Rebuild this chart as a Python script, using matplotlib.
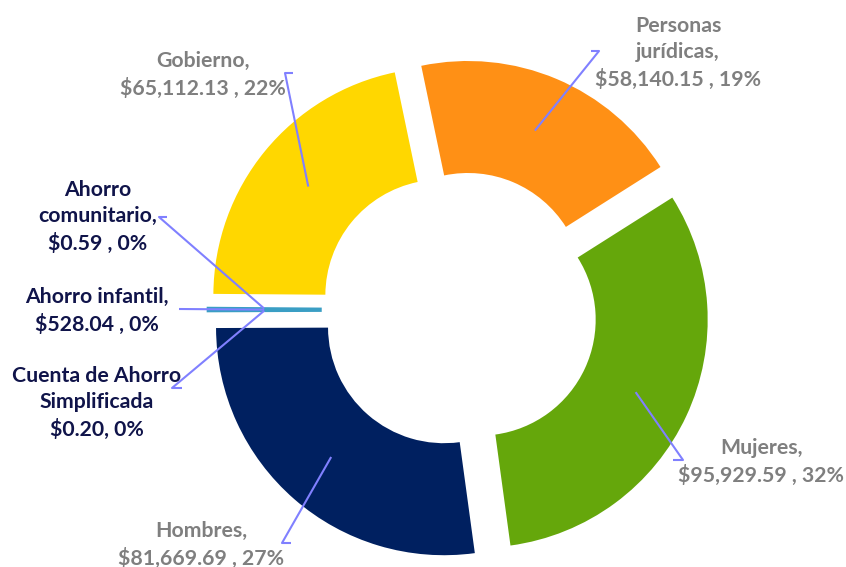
import numpy as np
import matplotlib.pyplot as plt

# data (clockwise, starting with Personas jurídicas)
names = ["Personas\njurídicas,", "Mujeres,", "Hombres,",
         "Cuenta de Ahorro\nSimplificada", "Ahorro infantil,",
         "Ahorro\ncomunitario,", "Gobierno,"]
values = [58140.15, 95929.59, 81669.69, 0.20, 528.04, 0.59, 65112.13]
seps = [" , ", " , ", " , ", ", ", " , ", " , ", " , "]

colors = ["#FF9015", "#65A70B", "#002060", "#3A9EC4", "#3A9EC4", "#3A9EC4", "#FFD700"]
text_colors = ["#7F7F7F", "#7F7F7F", "#7F7F7F", "#10144A", "#10144A", "#10144A", "#7F7F7F"]

W, H = 846, 567
cx, cy = 459, H - 310
r_out, r_in = 228, 116

# label centres (pixels from top-left), leader end point and elbow side
label_xy = [(678, 53), (761, 462), (201, 545), (97, 403), (97, 311), (98, 217), (203, 75)]
line_end = [(591, 51), (673, 460), (291, 543), (182, 388), (179, 309), (167, 217), (293, 73)]
elbow_dx = [-8, -10, 9, 10, 0, 8, 8]

plt.rcParams['font.family'] = ['Lato', 'DejaVu Sans']

fig = plt.figure(figsize=(W / 100, H / 100), dpi=100)
ax = fig.add_axes([0, 0, 1, 1])

total = sum(values)
# pie() takes the explode offset in data units
wedges, _ = ax.pie(values, colors=colors, radius=r_out, center=(cx, cy),
                   startangle=101.8, counterclock=False,
                   explode=[0.1 * r_out] * len(values),
                   wedgeprops=dict(width=r_out - r_in, linewidth=0))
# the tiny slice is drawn as a visible bar
wedges[4].set_edgecolor(colors[4])
wedges[4].set_linewidth(2.2)
wedges[3].set_visible(False)
wedges[5].set_visible(False)

ax.set_xlim(0, W)
ax.set_ylim(0, H)
ax.set_aspect('auto')
ax.axis('off')

for i, w in enumerate(wedges):
    mid = np.deg2rad((w.theta1 + w.theta2) / 2)
    rm = w.r - w.width / 2
    ax_x = w.center[0] + rm * np.cos(mid)
    ax_y = w.center[1] + rm * np.sin(mid)
    ex, ey = line_end[i]
    ey = H - ey
    bx = ex - elbow_dx[i]
    ax.plot([ax_x, bx, ex], [ax_y, ey, ey], color="#8080FF", lw=1.5,
            solid_capstyle='butt', zorder=3)

    pct = values[i] / total * 100
    txt = f"{names[i]}\n${values[i]:,.2f}{seps[i]}{pct:.0f}%"
    lx, ly = label_xy[i]
    ax.text(lx, H - ly, txt, ha='center', va='center', fontsize=15.3,
            fontweight='bold', color=text_colors[i], linespacing=1.42)

fig.savefig("out.png", dpi=100)
